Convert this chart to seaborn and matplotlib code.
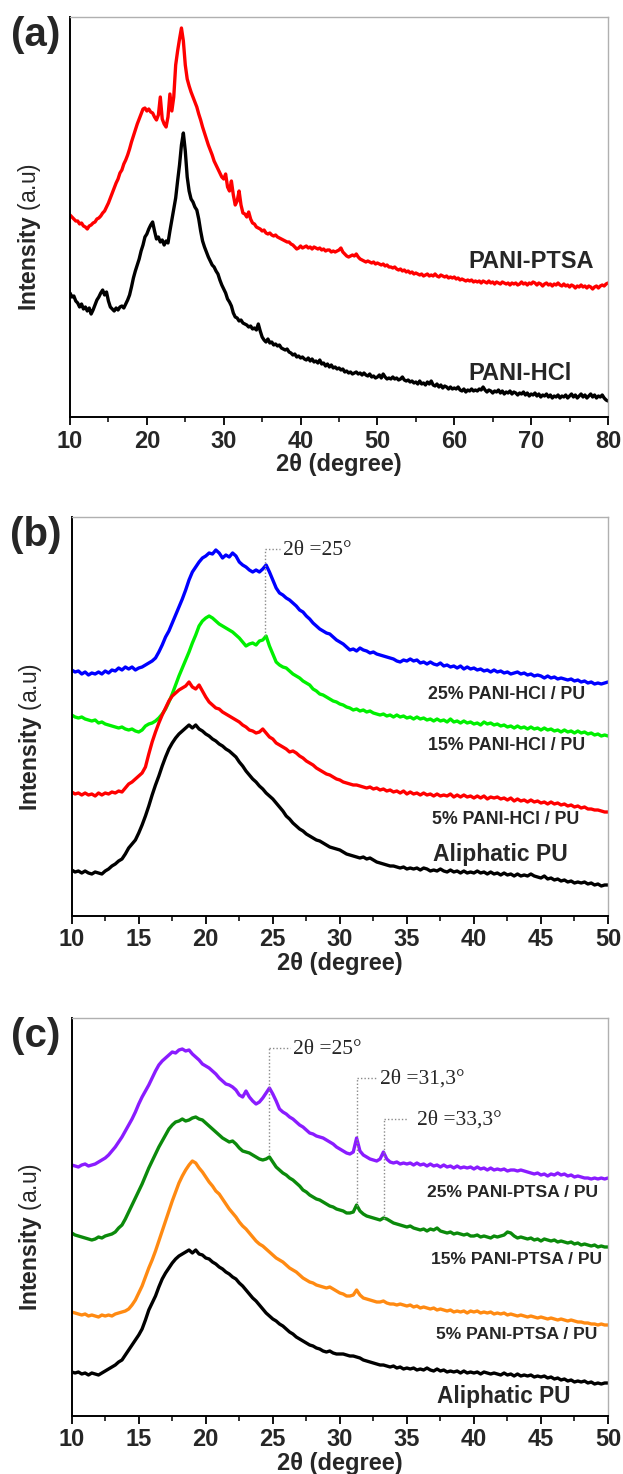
import numpy as np
import pandas as pd
import matplotlib
matplotlib.use("Agg")
import matplotlib.pyplot as plt
from matplotlib import font_manager
import seaborn as sns

# ---------------- data (intensity in arbitrary units) ----------------
# panel (a): 2theta from 10 to 80 in steps of 0.25
X_A_START, X_A_STOP, X_A_STEP = 10.0, 80.0, 0.25
PANI_PTSA = [
    202, 200, 198, 196, 196, 193, 194, 191, 190, 188, 191, 192, 194, 195, 198, 199,
    201, 204, 206, 210, 214, 219, 224, 229, 234, 238, 244, 247, 253, 257, 262, 268,
    275, 281, 287, 293, 298, 303, 308, 309, 306, 308, 305, 304, 300, 297, 302, 320,
    298, 293, 290, 300, 323, 306, 320, 352, 366, 378, 389, 376, 352, 338, 331, 325,
    320, 315, 310, 303, 297, 290, 284, 278, 272, 267, 262, 256, 252, 248, 244, 240,
    238, 243, 230, 226, 236, 222, 212, 216, 226, 212, 204, 203, 200, 205, 198, 194,
    193, 190, 189, 188, 186, 187, 184, 183, 184, 182, 181, 182, 180, 179, 178, 177,
    176, 175, 175, 173, 172, 170, 168, 169, 171, 169, 170, 171, 169, 170, 168, 170,
    169, 168, 169, 167, 168, 166, 167, 167, 165, 166, 165, 166, 167, 169, 165, 163,
    161, 160, 161, 162, 161, 163, 160, 158, 157, 156, 155, 156, 155, 154, 155, 153,
    154, 153, 152, 153, 151, 152, 150, 150, 149, 150, 148, 147, 148, 146, 147, 145,
    146, 144, 145, 143, 144, 143, 142, 143, 141, 142, 143, 141, 142, 141, 143, 141,
    140, 142, 141, 140, 141, 139, 140, 139, 140, 138, 139, 137, 138, 137, 136, 137,
    136, 137, 135, 136, 135, 136, 134, 136, 135, 134, 136, 134, 135, 133, 135, 134,
    133, 135, 134, 133, 134, 132, 134, 133, 134, 132, 133, 135, 133, 134, 132, 134,
    133, 135, 134, 132, 134, 133, 131, 133, 134, 132, 133, 131, 133, 132, 134, 132,
    131, 133, 131, 132, 130, 132, 131, 129, 131, 130, 132, 130, 131, 129, 131, 130,
    128, 130, 131, 129, 131, 132, 131, 133, 134,
]
PANI_HCL = [
    124, 120, 121, 116, 114, 110, 113, 108, 110, 106, 109, 103, 107, 112, 117, 120,
    124, 127, 122, 125, 116, 110, 108, 106, 109, 107, 110, 111, 109, 113, 117, 122,
    130, 139, 146, 152, 158, 166, 172, 180, 183, 188, 192, 195, 186, 178, 180, 175,
    177, 172, 176, 174, 186, 197, 208, 219, 236, 252, 272, 284, 266, 240, 226, 218,
    215, 210, 207, 198, 186, 176, 170, 165, 160, 156, 152, 150, 146, 143, 137, 132,
    128, 124, 118, 115, 111, 104, 100, 99, 96, 97, 94, 93, 92, 90, 91, 88,
    89, 87, 93, 86, 80, 77, 75, 78, 74, 75, 72, 73, 71, 72, 69, 68,
    67, 68, 65, 64, 62, 63, 60, 61, 59, 60, 58, 57, 59, 56, 58, 55,
    56, 54, 57, 53, 54, 51, 53, 50, 52, 49, 50, 48, 49, 47, 48, 45,
    46, 44, 45, 43, 44, 45, 43, 44, 42, 44, 42, 41, 43, 40, 41, 39,
    40, 42, 39, 43, 40, 38, 39, 38, 40, 38, 39, 37, 38, 40, 37, 36,
    37, 35, 36, 34, 35, 33, 36, 33, 34, 32, 35, 33, 36, 32, 31, 33,
    30, 32, 29, 31, 30, 28, 30, 28, 29, 28, 30, 27, 26, 28, 25, 27,
    26, 28, 26, 27, 26, 28, 27, 30, 27, 25, 27, 26, 24, 26, 25, 27,
    24, 26, 23, 25, 24, 26, 23, 25, 24, 22, 24, 23, 25, 22, 24, 21,
    23, 22, 24, 21, 23, 20, 22, 21, 23, 20, 22, 19, 21, 20, 22, 19,
    21, 20, 22, 19, 21, 23, 20, 22, 19, 21, 23, 20, 22, 19, 21, 23,
    20, 22, 19, 21, 20, 22, 19, 17, 16,
]

# panels (b) and (c): 2theta from 10 to 50 in steps of 0.25
X_BC_START, X_BC_STOP, X_BC_STEP = 10.0, 50.0, 0.25
HCL_25 = [
    246, 244, 245, 242, 244, 241, 243, 242, 244, 242, 245, 243, 246, 245, 248, 246,
    249, 247, 249, 246, 248, 249, 251, 253, 255, 258, 264, 271, 279, 285, 293, 301,
    309, 317, 326, 336, 344, 349, 354, 358, 360, 363, 362, 366, 363, 358, 361, 359,
    363, 360, 354, 351, 349, 346, 344, 346, 344, 347, 351, 344, 336, 328, 323, 321,
    318, 316, 313, 310, 306, 304, 300, 297, 293, 290, 287, 285, 283, 282, 279, 276,
    274, 272, 269, 266, 267, 265, 268, 266, 265, 263, 264, 262, 261, 260, 259, 258,
    257, 255, 254, 256, 255, 257, 255, 256, 253, 254, 252, 254, 252, 251, 253, 250,
    251, 249, 250, 248, 250, 247, 249, 247, 248, 246, 247, 245, 246, 244, 246, 244,
    245, 243, 244, 242, 243, 244, 242, 243, 241, 242, 240, 241, 240, 238, 240, 238,
    239, 237, 238, 237, 236, 237, 235, 236, 234, 235, 233, 234, 232, 233, 232, 233,
    234,
]
HCL_15 = [
    201, 199, 198, 199, 197, 196, 195, 196, 193, 194, 192, 191, 190, 189, 188, 189,
    187, 186, 187, 185, 184, 186, 190, 192, 193, 195, 198, 202, 207, 214, 222, 231,
    240, 248, 256, 264, 273, 281, 290, 295, 298, 300, 298, 295, 292, 290, 288, 286,
    284, 281, 278, 274, 270, 272, 273, 271, 275, 276, 280, 270, 262, 254, 251, 249,
    248, 245, 242, 240, 238, 235, 233, 231, 227, 225, 222, 221, 219, 217, 215, 214,
    212, 211, 209, 208, 206, 207, 205, 206, 204, 205, 203, 202, 201, 202, 200, 201,
    199, 201, 199, 200, 198, 199, 197, 199, 197, 198, 196, 197, 195, 197, 195, 196,
    194, 197, 194, 195, 193, 195, 193, 194, 192, 193, 191, 194, 192, 193, 191, 192,
    190, 191, 189, 190, 188, 190, 188, 189, 187, 189, 187, 188, 186, 188, 186, 187,
    185, 186, 184, 186, 184, 185, 183, 185, 183, 184, 182, 183, 181, 182, 180, 181,
    180,
]
HCL_5 = [
    124, 122, 123, 121, 123, 121, 122, 120, 123, 121, 123, 122, 124, 123, 125, 124,
    128, 132, 134, 137, 140, 143, 149, 162, 174, 184, 193, 201, 208, 215, 220, 223,
    226, 228, 230, 234, 229, 227, 231, 225, 219, 214, 211, 208, 207, 204, 202, 200,
    198, 196, 194, 191, 189, 186, 185, 183, 184, 187, 183, 179, 177, 173, 171, 169,
    167, 164, 165, 163, 160, 158, 155, 153, 151, 148, 146, 144, 142, 141, 139, 137,
    136, 134, 133, 132, 131, 131, 130, 129, 128, 129, 127, 128, 126, 127, 125, 126,
    124, 125, 123, 125, 122, 124, 122, 123, 121, 123, 121, 122, 120, 122, 120, 121,
    120, 122, 119, 121, 119, 121, 119, 120, 118, 120, 118, 120, 117, 119, 118, 119,
    117, 118, 116, 118, 115, 117, 115, 116, 114, 116, 114, 115, 113, 114, 112, 114,
    112, 113, 111, 112, 110, 111, 109, 110, 108, 109, 107, 107, 106, 106, 105, 104,
    104,
]
PU_B = [
    46, 44, 45, 43, 45, 43, 42, 44, 43, 42, 45, 47, 50, 52, 55, 57,
    62, 68, 72, 76, 83, 91, 100, 110, 121, 131, 140, 150, 159, 167, 173, 178,
    182, 185, 188, 191, 188, 191, 187, 185, 182, 180, 177, 175, 172, 170, 167, 165,
    162, 159, 154, 150, 145, 141, 137, 134, 130, 127, 123, 120, 117, 113, 109, 105,
    100, 97, 93, 90, 87, 85, 82, 80, 78, 76, 75, 73, 71, 69, 68, 67,
    66, 64, 62, 61, 60, 59, 58, 59, 57, 58, 56, 54, 53, 52, 51, 50,
    50, 49, 48, 49, 47, 48, 47, 48, 46, 48, 47, 45, 46, 45, 47, 45,
    44, 46, 44, 45, 43, 45, 43, 44, 43, 45, 43, 44, 42, 44, 42, 43,
    41, 43, 41, 42, 40, 42, 40, 41, 40, 42, 40, 39, 38, 40, 37, 38,
    36, 37, 35, 36, 34, 35, 33, 34, 33, 34, 32, 33, 31, 32, 30, 31,
    31,
]
PTSA_25 = [
    251, 250, 249, 251, 252, 250, 251, 252, 254, 256, 258, 261, 265, 269, 274, 279,
    285, 291, 297, 304, 312, 319, 325, 331, 338, 345, 351, 355, 358, 361, 364, 363,
    366, 367, 365, 366, 362, 359, 356, 352, 350, 348, 345, 342, 338, 335, 332, 331,
    329, 326, 321, 319, 325, 319, 315, 312, 314, 318, 323, 328, 322, 315, 307, 304,
    302, 299, 297, 294, 291, 289, 286, 283, 282, 280, 279, 278, 276, 274, 272, 269,
    267, 265, 263, 262, 264, 278, 265, 261, 259, 257, 256, 255, 257, 264, 257, 254,
    253, 254, 252, 253, 252, 253, 251, 253, 251, 252, 250, 252, 250, 251, 249, 251,
    249, 250, 248, 250, 248, 249, 248, 249, 247, 249, 247, 248, 246, 248, 246, 247,
    246, 247, 245, 246, 246, 245, 246, 245, 244, 243, 242, 243, 241, 242, 240, 242,
    241, 243, 241, 242, 240, 241, 239, 240, 239, 238, 238, 237, 238, 237, 238, 237,
    238,
]
PTSA_15 = [
    183, 181, 180, 179, 178, 177, 176, 177, 179, 178, 180, 181, 182, 184, 188, 191,
    197, 204, 211, 218, 225, 232, 240, 248, 255, 262, 269, 275, 281, 287, 291, 294,
    295, 297, 295, 296, 298, 299, 297, 296, 293, 290, 287, 284, 281, 278, 276, 274,
    275, 272, 268, 265, 264, 263, 261, 259, 257, 256, 257, 259, 254, 249, 246, 243,
    241, 238, 236, 233, 230, 226, 224, 221, 219, 217, 216, 214, 212, 210, 209, 207,
    206, 205, 203, 203, 204, 211, 205, 202, 200, 199, 198, 197, 196, 198, 197, 195,
    193, 192, 191, 190, 189, 190, 188, 187, 186, 187, 185, 187, 186, 188, 185, 184,
    183, 184, 182, 183, 182, 181, 182, 180, 180, 181, 179, 180, 179, 178, 180, 179,
    180, 181, 184, 183, 180, 178, 179, 178, 177, 178, 176, 177, 175, 177, 176, 175,
    176, 174, 175, 174, 173, 174, 172, 173, 171, 172, 171, 170, 171, 169, 170, 169,
    169,
]
PTSA_5 = [
    104, 103, 102, 101, 102, 100, 101, 100, 99, 101, 100, 101, 100, 102, 103, 104,
    105, 107, 111, 116, 123, 130, 139, 148, 156, 165, 175, 185, 195, 205, 215, 224,
    233, 240, 246, 251, 255, 253, 248, 244, 239, 234, 230, 225, 222, 217, 212, 207,
    203, 199, 194, 190, 187, 183, 179, 175, 172, 170, 167, 164, 161, 158, 156, 154,
    151, 148, 146, 144, 141, 138, 136, 134, 133, 131, 130, 129, 128, 129, 127, 125,
    123, 122, 120, 120, 121, 126, 121, 118, 117, 116, 115, 114, 114, 115, 113, 112,
    112, 111, 112, 111, 110, 111, 109, 110, 108, 109, 108, 107, 108, 106, 107, 106,
    105, 106, 104, 105, 104, 105, 103, 105, 104, 105, 103, 104, 103, 104, 102, 103,
    102, 103, 101, 102, 101, 100, 101, 100, 99, 100, 99, 98, 99, 98, 97, 98,
    97, 96, 97, 96, 95, 96, 95, 94, 94, 93, 93, 92, 92, 91, 92, 91,
    91,
]
PU_C = [
    44, 43, 44, 42, 43, 41, 43, 42, 41, 43, 45, 47, 49, 51, 54, 56,
    61, 66, 71, 76, 81, 87, 96, 106, 113, 120, 129, 137, 143, 148, 153, 157,
    160, 162, 164, 166, 163, 166, 162, 161, 158, 157, 154, 152, 149, 147, 144, 142,
    139, 137, 133, 130, 126, 122, 118, 115, 111, 107, 103, 100, 97, 95, 92, 90,
    87, 84, 82, 79, 77, 75, 73, 71, 70, 68, 67, 65, 64, 65, 63, 62,
    62, 62, 61, 60, 60, 59, 58, 56, 55, 54, 53, 52, 51, 51, 50, 49,
    50, 48, 49, 47, 48, 47, 48, 46, 47, 46, 48, 46, 45, 47, 45, 46,
    44, 45, 44, 45, 43, 45, 43, 44, 43, 44, 42, 44, 43, 42, 43, 42,
    41, 43, 41, 42, 40, 42, 40, 41, 40, 41, 39, 40, 39, 40, 38, 39,
    37, 38, 36, 37, 35, 36, 34, 35, 34, 35, 33, 34, 32, 33, 32, 33,
    33,
]

LABELS_A = ["PANI-PTSA", "PANI-HCl"]
LABELS_B = ["25% PANI-HCl / PU", "15% PANI-HCl / PU", "5% PANI-HCl / PU", "Aliphatic PU"]
LABELS_C = ["25% PANI-PTSA / PU", "15% PANI-PTSA / PU", "5% PANI-PTSA / PU", "Aliphatic PU"]
XTICKS_A = [10, 20, 30, 40, 50, 60, 70, 80]
XTICKS_BC = [10, 15, 20, 25, 30, 35, 40, 45, 50]
# peak annotations: (peak position, top of marker, end on curve, text)
PEAKS_B = [(24.41, 366.7, 280, "2θ =25°")]
PEAKS_C = [(24.72, 367.7, 262, "2θ =25°"),
           (31.30, 337.7, 210, "2θ =31,3°"),
           (33.29, 296.7, 197, "2θ =33,3°")]

COLORS_A = ["#ff0000", "#000000"]
COLORS_B = ["#0000ff", "#00f000", "#ff0000", "#000000"]
COLORS_C = ["#8a1cff", "#0b8a0b", "#ff8a12", "#000000"]

# ---------------- style ----------------
sns.set_style("ticks")
plt.rcParams['font.family'] = ['Liberation Sans', 'DejaVu Sans']
plt.rcParams['mathtext.fontset'] = 'custom'
plt.rcParams['mathtext.rm'] = 'Liberation Sans'
plt.rcParams['mathtext.bf'] = 'Liberation Sans:bold'
plt.rcParams['mathtext.it'] = 'Liberation Sans:italic'

_installed = {f.name for f in font_manager.fontManager.ttflist}
HAS_NARROW = "Liberation Sans Narrow" in _installed
AXIS_FAMILY = ["Liberation Sans Narrow", "Liberation Sans", "DejaVu Sans"] if HAS_NARROW \
    else ["Liberation Sans", "DejaVu Sans"]
TICK_FS = 19 if HAS_NARROW else 17
XLAB_FS = 19 if HAS_NARROW else 17

W, H = 623, 1474
fig = plt.figure(figsize=(W / 100, H / 100), dpi=100)
fig.patch.set_facecolor("white")

def px_axes(left, top, right, bottom):
    return fig.add_axes([left / W, 1 - bottom / H, (right - left) / W, (bottom - top) / H])

ax_a = px_axes(70, 17, 608, 417)
ax_b = px_axes(71.7, 517.3, 608, 916)
ax_c = px_axes(71.7, 1018.3, 608, 1416)

x_a = np.arange(X_A_START, X_A_STOP + 1e-9, X_A_STEP)
x_bc = np.arange(X_BC_START, X_BC_STOP + 1e-9, X_BC_STEP)

LW = 2.4

def draw(ax, x, series, colors):
    for ys, c in zip(series, colors):
        df = pd.DataFrame({"x": x, "y": ys})
        sns.lineplot(data=df, x="x", y="y", ax=ax, color=c, lw=LW, estimator=None,
                     sort=False, legend=False)

draw(ax_a, x_a, [PANI_PTSA, PANI_HCL], COLORS_A)
draw(ax_b, x_bc, [HCL_25, HCL_15, HCL_5, PU_B], COLORS_B)
draw(ax_c, x_bc, [PTSA_25, PTSA_15, PTSA_5, PU_C], COLORS_C)

def style(ax, xlim, ylim, ticks, minor_step):
    ax.set_xlim(*xlim)
    ax.set_ylim(*ylim)
    ax.set_yticks([])
    ax.set_xticks(ticks)
    ax.set_xticklabels([str(t) for t in ticks], fontweight="bold", fontsize=TICK_FS,
                       family=AXIS_FAMILY)
    minors = np.arange(ticks[0], ticks[-1] + 1e-9, minor_step)
    ax.set_xticks(minors, minor=True)
    ax.tick_params(axis="x", which="major", direction="out", length=6, width=1.3,
                   pad=3, bottom=True, top=False, color="black")
    ax.tick_params(axis="x", which="minor", direction="out", length=3.5, width=1.1,
                   bottom=True, top=False, color="black")
    ax.tick_params(axis="y", left=False, right=False)
    for s in ["left", "bottom"]:
        ax.spines[s].set_color("black")
        ax.spines[s].set_linewidth(1.4)
    for s in ["top", "right"]:
        ax.spines[s].set_color("#b0b0b0")
        ax.spines[s].set_linewidth(1.0)
        ax.spines[s].set_visible(True)
    ax.set_xlabel("2θ (degree)", fontsize=XLAB_FS, fontweight="bold", labelpad=0.3,
                  family=AXIS_FAMILY)
    ax.set_ylabel(r"$\mathbf{Intensity}$ (a.u)", fontsize=16.5)
    ax.yaxis.set_label_coords(-0.051, 0.45)

style(ax_a, (10, 80), (0, 400), XTICKS_A, 5)
style(ax_b, (10, 50), (0, 398.7), XTICKS_BC, 2.5)
style(ax_c, (10, 50), (0, 397.7), XTICKS_BC, 2.5)

# series labels
ax_a.text(61.8, 155, LABELS_A[0], fontsize=17, fontweight="bold", ha="left", va="center")
ax_a.text(61.8, 43.5, LABELS_A[1], fontsize=17, fontweight="bold", ha="left", va="center")

for lbl, xx, yy, fs in zip(LABELS_B, [42.4, 42.4, 42.4, 42.0], [221.5, 170.5, 96.5, 61],
                           [12.8, 12.8, 12.8, 16.5]):
    ax_b.text(xx, yy, lbl, fontsize=fs, fontweight="bold", ha="center", va="center")
for lbl, xx, yy, fs in zip(LABELS_C, [42.9, 43.2, 43.2, 42.2], [223.5, 156.5, 81.5, 20],
                           [12.6, 12.6, 12.6, 16.3]):
    ax_c.text(xx, yy, lbl, fontsize=fs, fontweight="bold", ha="center", va="center")

# peak markers
def peaks(ax, plist, dx_line, dx_text):
    for (xp, ytop, yend, txt), dl, dt in zip(plist, dx_line, dx_text):
        ax.plot([xp, xp], [yend, ytop], ls=(0, (1, 1.5)), color="#8a8a8a", lw=1.0)
        ax.plot([xp, xp + dl], [ytop, ytop], ls=(0, (1, 1.5)), color="#8a8a8a", lw=1.0)
        ax.text(xp + dt, ytop - 1, txt, fontsize=15.5, family=["Liberation Serif", "DejaVu Serif"],
                ha="left", va="center")

peaks(ax_b, PEAKS_B, [1.1], [1.35])
peaks(ax_c, PEAKS_C, [1.55, 1.45, 1.7], [1.8, 1.7, 2.45])

# panel letters
for ax_top, letter in [(17, "(a)"), (517.3, "(b)"), (1018.3, "(c)")]:
    fig.text(36 / W, 1 - (ax_top + 18) / H, letter, fontsize=29, fontweight="bold",
             ha="center", va="center")

fig.savefig("out.png", dpi=100)
